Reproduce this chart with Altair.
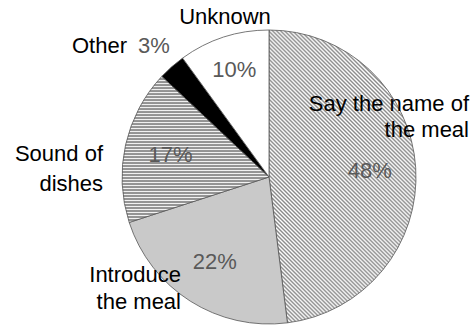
import math
import altair as alt
import pandas as pd

# ---- data ----
categories = ["Say the name of\nthe meal", "Introduce\nthe meal", "Sound of\ndishes", "Other", "Unknown"]
shares = [48, 22, 17, 3, 10]

df = pd.DataFrame({"category": categories, "share": shares, "order": list(range(len(categories)))})

# ---- layout / style ----
FONT = "Liberation Sans"
PAD_L, PAD_T = 62, 29
W, H = 414, 296
R = 147


def stripes(n, c_line, c_bg, x1, y1, x2, y2):
    """Soft (triangle-wave) stripes to avoid moire."""
    stops = []
    for i in range(n):
        stops.append({"offset": round(i / n, 6), "color": c_line})
        stops.append({"offset": round((i + 0.5) / n, 6), "color": c_bg})
    stops.append({"offset": 1, "color": c_line})
    return {"gradient": "linear", "x1": x1, "y1": y1, "x2": x2, "y2": y2, "stops": stops}


diag_fill = stripes(110, "#8a8a8a", "#ffffff", 0, 1, 0.6, -0.2)
# horizontal stripes tuned to a 3px period on the slice's bounding box (~146px tall)
horiz_fill = stripes(49, "#666666", "#f2f2f2", 0, -0.0023, 0, 1.0039)
fills = [diag_fill, "#c9c9c9", horiz_fill, "#000000", "#ffffff"]

theta_scale = alt.Scale(domain=[0, 100], range=[0, 2 * math.pi])

base = alt.Chart(df).transform_window(
    cum="sum(share)", sort=[alt.SortField("order")], frame=[None, 0]
).transform_calculate(
    start="datum.cum - datum.share",
    end="datum.cum",
    mid="datum.cum - datum.share / 2",
)

layers = []
for i, f in enumerate(fills):
    layers.append(
        base.transform_filter(alt.datum.order == i)
        .mark_arc(radius=R, fill=f, stroke="#555555", strokeWidth=0.8)
        .encode(
            theta=alt.Theta("start:Q", scale=theta_scale, stack=None),
            theta2="end:Q",
        )
    )

pct = base.transform_calculate(
    lr="datum.share < 5 ? 174 : (datum.share < 15 ? 112 : 101)",
    plabel="datum.share + '%'",
).mark_text(fontSize=22, font=FONT, color="#595959").encode(
    theta=alt.Theta("mid:Q", scale=theta_scale, stack=None),
    radius=alt.Radius("lr:Q", scale=None),
    text="plabel:N",
)
layers.append(pct)

# label anchors (page px): x, baseline y, align, line height
label_pos = [
    (469, 111, "right", 26),
    (181, 282, "right", 27),
    (103, 161, "right", 30),
    (127, 53, "right", 26),
    (225, 24, "center", 26),
]
for i, (x, y, al, lh) in enumerate(label_pos):
    layers.append(
        base.transform_filter(alt.datum.order == i)
        .mark_text(align=al, baseline="alphabetic", lineBreak="\n", lineHeight=lh,
                   fontSize=22, font=FONT, color="#000000")
        .encode(x=alt.value(x - PAD_L), y=alt.value(y - PAD_T), text="category:N")
    )

chart = alt.layer(*layers).properties(
    width=W,
    height=H,
    padding={"left": PAD_L, "top": PAD_T, "right": 0, "bottom": 0},
    autosize=alt.AutoSizeParams(type="none"),
    background="white",
).configure_view(strokeWidth=0)

chart.save("out.html", embed_options={"renderer": "svg", "actions": False})
